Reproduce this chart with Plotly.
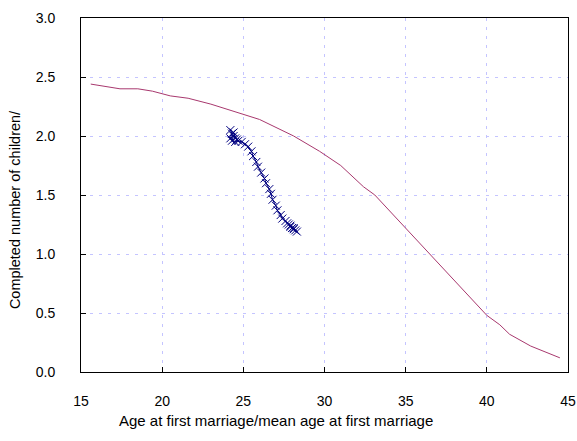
import plotly.graph_objects as go

# Red curve: completed number of children vs age at first marriage
red_x = [15.6, 16.5, 17.4, 18.5, 19.4, 20.5, 21.6, 23.0, 24.4, 26.0, 28.1, 29.7,
         31.0, 32.4, 33.1, 35.0, 36.5, 38.4, 40.0, 40.8, 41.4, 42.7, 44.5]
red_y = [2.44, 2.42, 2.40, 2.40, 2.38, 2.34, 2.32, 2.27, 2.21, 2.14, 2.00, 1.87,
         1.75, 1.57, 1.50, 1.22, 1.00, 0.72, 0.48, 0.40, 0.32, 0.22, 0.12]

# Blue series: mean age at first marriage vs completed number of children
blue_x = [24.2, 24.3, 24.2, 24.4, 24.3, 24.5, 24.4, 24.6, 24.5, 24.7, 24.9, 25.1,
          25.3, 25.5, 25.6, 25.8, 25.9, 26.1, 26.3, 26.4, 26.6, 26.7, 26.8, 27.0,
          27.1, 27.3, 27.4, 27.6, 27.7, 27.8, 27.9, 28.0, 28.1, 28.2, 28.3, 28.1, 27.9]
blue_y = [2.05, 2.02, 1.98, 2.00, 1.96, 1.98, 2.03, 1.97, 1.95, 1.96, 1.95, 1.93,
          1.91, 1.87, 1.83, 1.78, 1.74, 1.69, 1.64, 1.60, 1.55, 1.51, 1.46, 1.41,
          1.37, 1.33, 1.30, 1.28, 1.26, 1.25, 1.23, 1.22, 1.21, 1.20, 1.19, 1.22, 1.24]

x_ticks = [15, 20, 25, 30, 35, 40, 45]
y_ticks = [0.0, 0.5, 1.0, 1.5, 2.0, 2.5, 3.0]

x_title = "Age at first marriage/mean age at first marriage"
y_title = "Completed number of children/"

fig = go.Figure()
fig.add_trace(go.Scatter(x=red_x, y=red_y, mode="lines",
                         line=dict(color="#A8386E", width=1), showlegend=False))
fig.add_trace(go.Scatter(x=blue_x, y=blue_y, mode="lines+markers",
                         line=dict(color="#000080", width=1),
                         marker=dict(symbol="x-thin", size=8,
                                     line=dict(color="#000080", width=1)),
                         showlegend=False))

font_family = "Liberation Sans, Arial, sans-serif"
grid = dict(showgrid=True, gridcolor="#C4C4FF", griddash="3px,6px", gridwidth=1)

fig.update_layout(
    width=577, height=441,
    margin=dict(l=81, r=9, t=18, b=69),
    paper_bgcolor="white", plot_bgcolor="white",
    font=dict(family=font_family, size=14, color="black"),
    xaxis=dict(range=[15, 45], tickvals=x_ticks, ticktext=[str(v) for v in x_ticks],
               showline=True, linecolor="black", linewidth=1, mirror=True,
               ticks="inside", ticklen=5, tickcolor="black", automargin=False,
               ticklabelstandoff=16, zeroline=False, **grid),
    yaxis=dict(range=[0, 3], tickvals=y_ticks, ticktext=[f"{v:.1f}" for v in y_ticks],
               showline=True, linecolor="black", linewidth=1, mirror=True,
               ticks="inside", ticklen=5, tickcolor="black", automargin=False,
               ticklabelstandoff=22, zeroline=False, **grid),
    annotations=[
        dict(text=x_title, xref="paper", yref="paper", x=0.40, y=-0.136,
             xanchor="center", yanchor="middle", showarrow=False,
             font=dict(size=15)),
        dict(text=y_title, xref="paper", yref="paper", x=-0.135, y=0.458,
             xanchor="center", yanchor="middle", showarrow=False, textangle=-90,
             font=dict(size=14.5)),
    ],
)

# remove the default page margin so the figure fills the window exactly
fig.write_html("out.html",
               config={"displayModeBar": False},
               post_script="document.body.style.margin='0';"
                           "document.body.style.overflow='hidden';")
